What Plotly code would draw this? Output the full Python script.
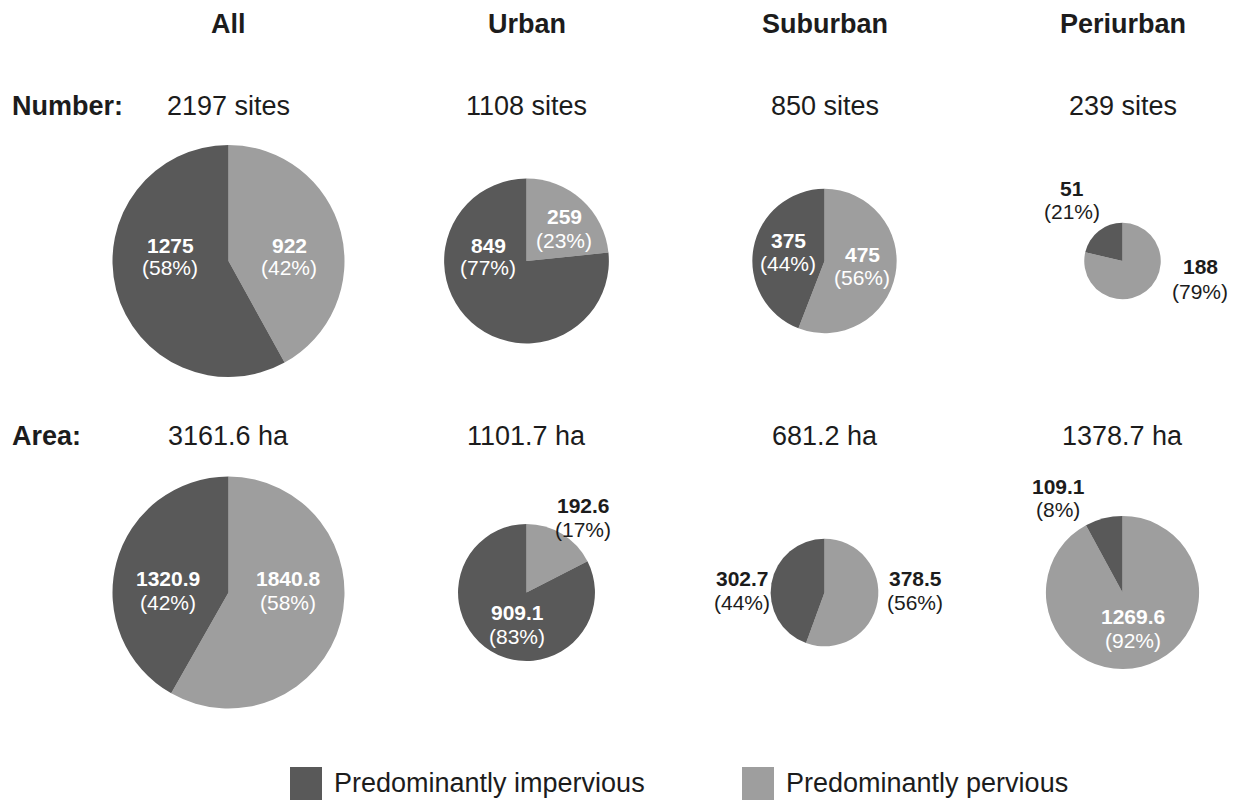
import plotly.graph_objects as go

# ---- data -------------------------------------------------------------
regions = ["All", "Urban", "Suburban", "Periurban"]

sites_impervious = [1275, 849, 375, 51]
sites_pervious = [922, 259, 475, 188]
sites_total = [2197, 1108, 850, 239]

area_impervious = [1320.9, 909.1, 302.7, 109.1]
area_pervious = [1840.8, 192.6, 378.5, 1269.6]
area_total = [3161.6, 1101.7, 681.2, 1378.7]

legend_labels = ["Predominantly impervious", "Predominantly pervious"]

# ---- layout / style ---------------------------------------------------
W, H = 1234, 801
DARK = "#595959"
LIGHT = "#9e9e9e"
INK = "#1c1c1c"
FONT = "Liberation Sans, Arial, sans-serif"
BIG = 27        # headers, row labels, totals, legend
SMALL = 21      # slice labels

col_x = [228.5, 526.5, 824.5, 1122.5]     # column centres (px)
row_y = [261, 592.5]                       # pie centres for the two rows (px)
max_diam = 232                             # diameter of the largest pie in a row (px)

# label placement (px): (x, y of value line, y of percent line, colour)
label_pos = {
    (0, 0): [(170, 245, 268, "white"), (289, 245, 268, "white")],
    (0, 1): [(488, 245, 268, "white"), (564, 216, 240, "white")],
    (0, 2): [(788, 240, 264, "white"), (862, 254, 278, "white")],
    (0, 3): [(1072, 188, 212, INK), (1200, 267, 291, INK)],
    (1, 0): [(168, 578, 602, "white"), (288, 578, 602, "white")],
    (1, 1): [(517, 612, 636, "white"), (583, 505, 529, INK)],
    (1, 2): [(742, 578, 602, INK), (915, 578, 602, INK)],
    (1, 3): [(1058, 486, 509, INK), (1133, 616, 640, "white")],
}


def px(x):
    return x / W


def py(y):
    return 1 - y / H


fig = go.Figure()
annotations = []


def add_text(x, y, text, size, bold=False, color=INK, anchor="center"):
    annotations.append(dict(
        x=px(x), y=py(y), xref="paper", yref="paper",
        text=f"<b>{text}</b>" if bold else text,
        showarrow=False, xanchor=anchor, yanchor="middle",
        font=dict(family=FONT, size=size, color=color),
    ))


rows = [
    (sites_impervious, sites_pervious, sites_total, "{:.0f}", "{} sites"),
    (area_impervious, area_pervious, area_total, "{:.1f}", "{} ha"),
]

for r, (imp, perv, tot, fmt, sub) in enumerate(rows):
    row_max = max(tot)
    for c in range(len(regions)):
        d = max_diam * (tot[c] / row_max) ** 0.5
        cx, cy = col_x[c], row_y[r]
        fig.add_trace(go.Pie(
            values=[perv[c], imp[c]],
            labels=[legend_labels[1], legend_labels[0]],
            marker=dict(colors=[LIGHT, DARK], line=dict(width=0)),
            sort=False, direction="clockwise", rotation=0,
            textinfo="none", hoverinfo="label+value+percent",
            showlegend=False,
            domain=dict(x=[px(cx - d / 2), px(cx + d / 2)],
                        y=[py(cy + d / 2), py(cy - d / 2)]),
        ))
        s = imp[c] + perv[c]
        for (lx, ly, lyp, col), v in zip(label_pos[(r, c)], [imp[c], perv[c]]):
            add_text(lx, ly, fmt.format(v), SMALL, bold=True, color=col)
            add_text(lx, lyp, f"({round(100 * v / s + 1e-9):.0f}%)", SMALL, color=col)

        sub_y = 106 if r == 0 else 436
        add_text(cx, sub_y, sub.format(fmt.format(tot[c])), BIG)

# column headers
for c, name in enumerate(regions):
    add_text(col_x[c], 24, name, BIG, bold=True)

# row labels
add_text(10, 106, "Number:", BIG, bold=True, anchor="left")
add_text(10, 436, "Area:", BIG, bold=True, anchor="left")

# legend
shapes = []
legend_items = [(290, DARK, legend_labels[0]), (742, LIGHT, legend_labels[1])]
for lx, colr, lab in legend_items:
    shapes.append(dict(type="rect", xref="paper", yref="paper",
                       x0=px(lx), x1=px(lx + 32), y0=py(800), y1=py(767),
                       fillcolor=colr, line=dict(width=0)))
    add_text(lx + 42, 783, lab, BIG, anchor="left")

fig.update_layout(
    width=W, height=H,
    margin=dict(l=0, r=0, t=0, b=0),
    paper_bgcolor="white", plot_bgcolor="white",
    annotations=annotations, shapes=shapes,
    showlegend=False,
)

fig.write_html("out.html")
